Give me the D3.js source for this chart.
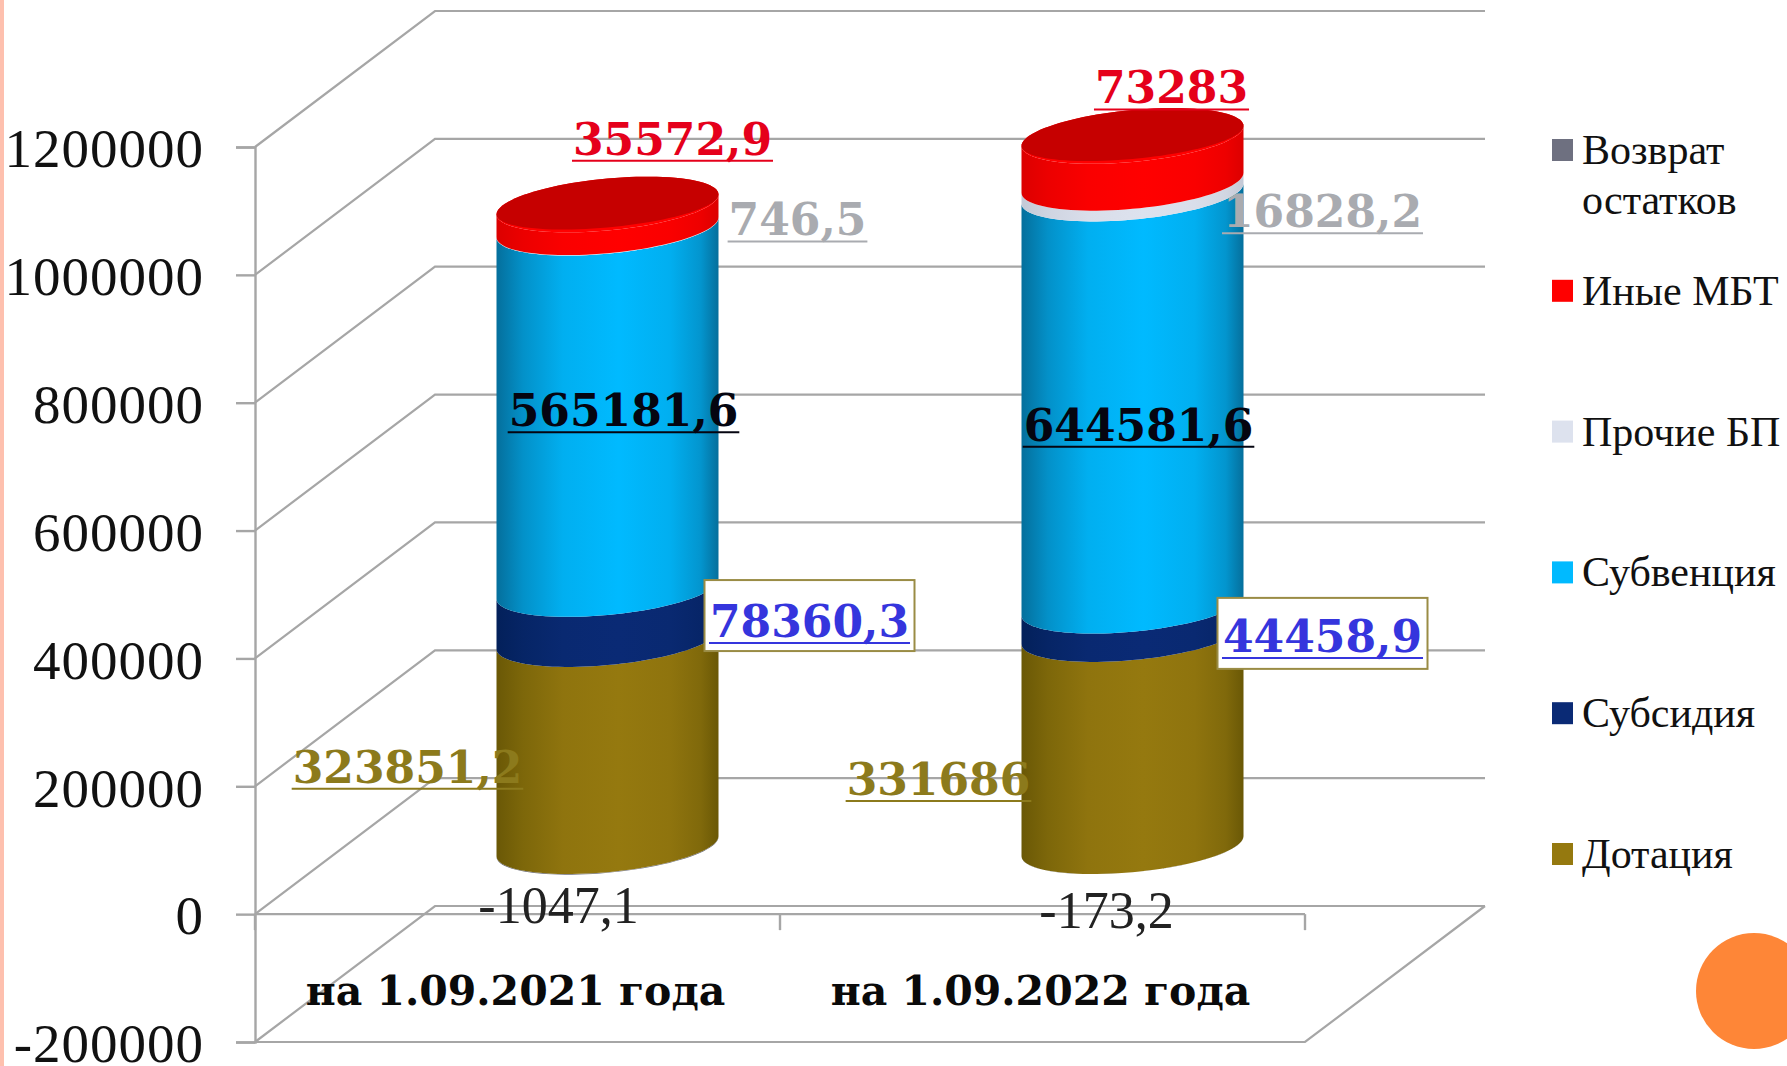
<!DOCTYPE html>
<html><head><meta charset="utf-8">
<script src="https://cdn.jsdelivr.net/npm/d3@7/dist/d3.min.js"></script>
<style>
html,body{margin:0;padding:0;background:#fff;overflow:hidden}
svg{display:block}
.bl{font-family:"DejaVu Serif",serif;font-weight:700;font-size:44px}
</style></head><body>
<svg id="c" width="1787" height="1066"></svg>
<script>
const categories = ["на 1.09.2021 года", "на 1.09.2022 года"];
const seriesNames = ["Дотация", "Субсидия", "Субвенция", "Прочие БП", "Иные МБТ", "Возврат остатков"];
const dotacia   = [323851.2, 331686];
const subsidia  = [78360.3, 44458.9];
const subvencia = [565181.6, 644581.6];
const prochie   = [746.5, 16828.2];
const inye      = [35572.9, 73283];
const vozvrat   = [-1047.1, -173.2];
const yTicks = [-200000, 0, 200000, 400000, 600000, 800000, 1000000, 1200000];
const legendOrder = ["Возврат остатков", "Иные МБТ", "Прочие БП", "Субвенция", "Субсидия", "Дотация"];

const seriesValues = [dotacia, subsidia, subvencia, prochie, inye, vozvrat];
const colors = ["#95790f", "#0a2a75", "#00baff", "#dde2ee", "#ff0000", "#6e7080"];
const edgeColors = ["#6a5806", "#03205a", "#056f9c", "#c4c9d6", "#dc0000", "#50525e"];
const labelColors = ["#8c7a1c", "#3535dd", "#050510", "#a9abb0", "#e5001b", "#222222"];
// label placement relative to the bar centre and segment midpoint
const labelDx = [[-200, -194], [202, 190], [16, 6], [190, 190], [65, 39], [-49, -26]];
const labelDy = [[-28, -13], [-45, -36], [-50, -27], [-60, -29], [-129, -124], [9, 14]];
const boxDy = [-57, -54];

const svg = d3.select("#c");
const W = 1787, H = 1066;
const depthX = 180, depthY = -136;
const y = d3.scaleLinear().domain([-200000, 1200000]).range([1042, 147]);
const x = d3.scaleBand().domain(categories).range([255, 1305]);
const gridCol = "#a6a6a6";
const serif = '"Liberation Serif",serif';

// page decoration
svg.append("rect").attr("width", 4).attr("height", H).attr("fill", "#fec0ae");
svg.append("ellipse").attr("cx", 1754).attr("cy", 991).attr("rx", 58).attr("ry", 58).attr("fill", "#fe8637");

// walls
const grid = svg.append("g").attr("fill", "none").attr("stroke", gridCol);
grid.selectAll("path.g").data(yTicks).join("path").attr("class", "g")
  .attr("stroke-width", 2.2)
  .attr("d", d => {
    const p = d3.path();
    p.moveTo(255, y(d)); p.lineTo(255 + depthX, y(d) + depthY);
    p.lineTo(1305 + depthX, y(d) + depthY);
    return p.toString();
  });
grid.append("path").attr("stroke-width", 2.2).attr("d", () => {
  const p = d3.path();
  const fy = y(-200000);
  p.moveTo(255, fy); p.lineTo(1305, fy); p.lineTo(1305 + depthX, fy + depthY);
  return p.toString();
});

// value axis
const yAxis = svg.append("g").attr("transform", "translate(255,0)")
  .call(d3.axisLeft(y).tickValues(yTicks).tickSize(19).tickPadding(32).tickFormat(d => String(d)));
yAxis.selectAll("path,line").attr("stroke", gridCol).attr("stroke-width", 2.4);
yAxis.selectAll("text").attr("font-family", serif).attr("font-size", 55).attr("letter-spacing", 1)
  .attr("fill", "#111").attr("dy", "0.36em");

// category axis at zero
const xAxisG = svg.append("g").attr("fill", "none").attr("stroke", gridCol).attr("stroke-width", 2.4);
xAxisG.append("line").attr("x1", x.range()[0]).attr("x2", x.range()[1]).attr("y1", y(0)).attr("y2", y(0));
xAxisG.selectAll("line.t").data([x.range()[0], x(categories[1]), x.range()[1]]).join("line")
  .attr("class", "t").attr("x1", d => d).attr("x2", d => d).attr("y1", y(0)).attr("y2", y(0) + 16);
svg.selectAll("text.cat").data(categories).join("text").attr("class", "cat")
  .attr("x", d => x(d) + x.bandwidth() / 2 - 2).attr("y", 1005).attr("text-anchor", "middle")
  .attr("font-family", '"DejaVu Serif",serif').attr("font-weight", 700).attr("font-size", 41).attr("fill", "#0a0a0a")
  .text(d => d);

// gradients
const defs = svg.append("defs");
colors.forEach((c, i) => {
  const g = defs.append("linearGradient").attr("id", "g" + i);
  const mix = d3.interpolateRgb(edgeColors[i], c);
  [[0, 0], [.12, .45], [.3, .85], [.55, 1], [.78, .85], [.92, .5], [1, 0]].forEach(([o, t]) =>
    g.append("stop").attr("offset", o).attr("stop-color", mix(t)));
});

// cylinders
const radiusX = 111, radiusY = 26, capFrontY = 23, skew = 10;
const angles = d3.range(0, 49).map(i => i / 48 * Math.PI);
const rimAt = (cx, cy, ry) => angles.map(t => [cx + radiusX * Math.cos(t), cy - skew * Math.cos(t) + ry * Math.sin(t)]);
const backAt = (cx, cy, ry) => angles.slice(1, -1).map(t =>
  [cx - radiusX * Math.cos(t), cy + skew * Math.cos(t) - ry * Math.sin(t)]);
const line = d3.line();
const bars = svg.append("g");
categories.forEach((cat, b) => {
  const cx = x(cat) + x.bandwidth() / 2 + depthX / 2;
  const neg = vozvrat[b];
  const seg = (i, v0, v1) => {
    const top = rimAt(cx, y(v1) + depthY / 2, radiusY);
    const base = rimAt(cx, y(v0) + depthY / 2, radiusY).reverse();
    bars.append("path").attr("d", line(base.concat(top)) + "Z").attr("fill", `url(#g${i})`);
  };
  seg(5, neg, 0);
  let acc = 0;
  for (let i = 0; i < 5; i++) {
    const v = seriesValues[i][b];
    seg(i, acc, acc + v);
    acc += v;
  }
  const cy = y(acc) + depthY / 2;
  // red under the cap closes the band right up to the darker top face
  bars.append("path").attr("d", line(rimAt(cx, cy, radiusY).concat(backAt(cx, cy, radiusY))) + "Z").attr("fill", colors[4]);
  bars.append("path").attr("d", line(rimAt(cx, cy, capFrontY).concat(backAt(cx, cy, radiusY))) + "Z").attr("fill", "#c60000");
});

// data labels
const lab = svg.append("g");
seriesValues.forEach((vals, i) => {
  let stackBase = [0, 0];
  for (let k = 0; k < i && i < 5; k++) stackBase = stackBase.map((s, b) => s + seriesValues[k][b]);
  vals.forEach((v, b) => {
    const mid = stackBase[b] + v / 2;
    const lx = x(categories[b]) + x.bandwidth() / 2 + depthX / 2 + labelDx[i][b];
    const ly = y(mid) + labelDy[i][b];
    if (i === 1) {
      lab.append("rect").attr("x", lx - 105).attr("y", ly + boxDy[b]).attr("width", 210).attr("height", 71)
        .attr("fill", "#fff").attr("stroke", "#9a8c45").attr("stroke-width", 2);
    }
    const t = lab.append("text").attr("x", lx).attr("y", ly).attr("text-anchor", "middle")
      .attr("fill", labelColors[i]).text(String(v).replace(".", ","));
    if (i === 5) t.attr("font-family", serif).attr("font-size", 52);
    else {
      t.attr("class", "bl");
      const w = t.node().getComputedTextLength();
      lab.append("line").attr("x1", lx - w / 2 - 1).attr("x2", lx + w / 2 + 1)
        .attr("y1", ly + 6).attr("y2", ly + 6)
        .attr("stroke", labelColors[i]).attr("stroke-width", 2);
    }
  });
});

// legend
const ly = d3.scalePoint().domain(legendOrder).range([150, 854]);
const colorOf = n => colors[seriesNames.indexOf(n)];
const leg = svg.append("g");
leg.selectAll("rect").data(legendOrder).join("rect")
  .attr("x", 1552).attr("y", d => ly(d) - 11).attr("width", 21).attr("height", 22).attr("fill", colorOf);
const lt = leg.selectAll("text").data(legendOrder).join("text")
  .attr("x", 1582).attr("y", d => ly(d) + 14)
  .attr("font-family", serif).attr("font-size", 42).attr("fill", "#111");
lt.each(function (d) {
  const parts = d.split(" ");
  const el = d3.select(this);
  if (d === "Возврат остатков") {
    el.append("tspan").attr("x", 1582).text(parts[0]);
    el.append("tspan").attr("x", 1582).attr("dy", 50).text(parts[1]);
  } else el.text(d);
});
</script>
</body></html>
